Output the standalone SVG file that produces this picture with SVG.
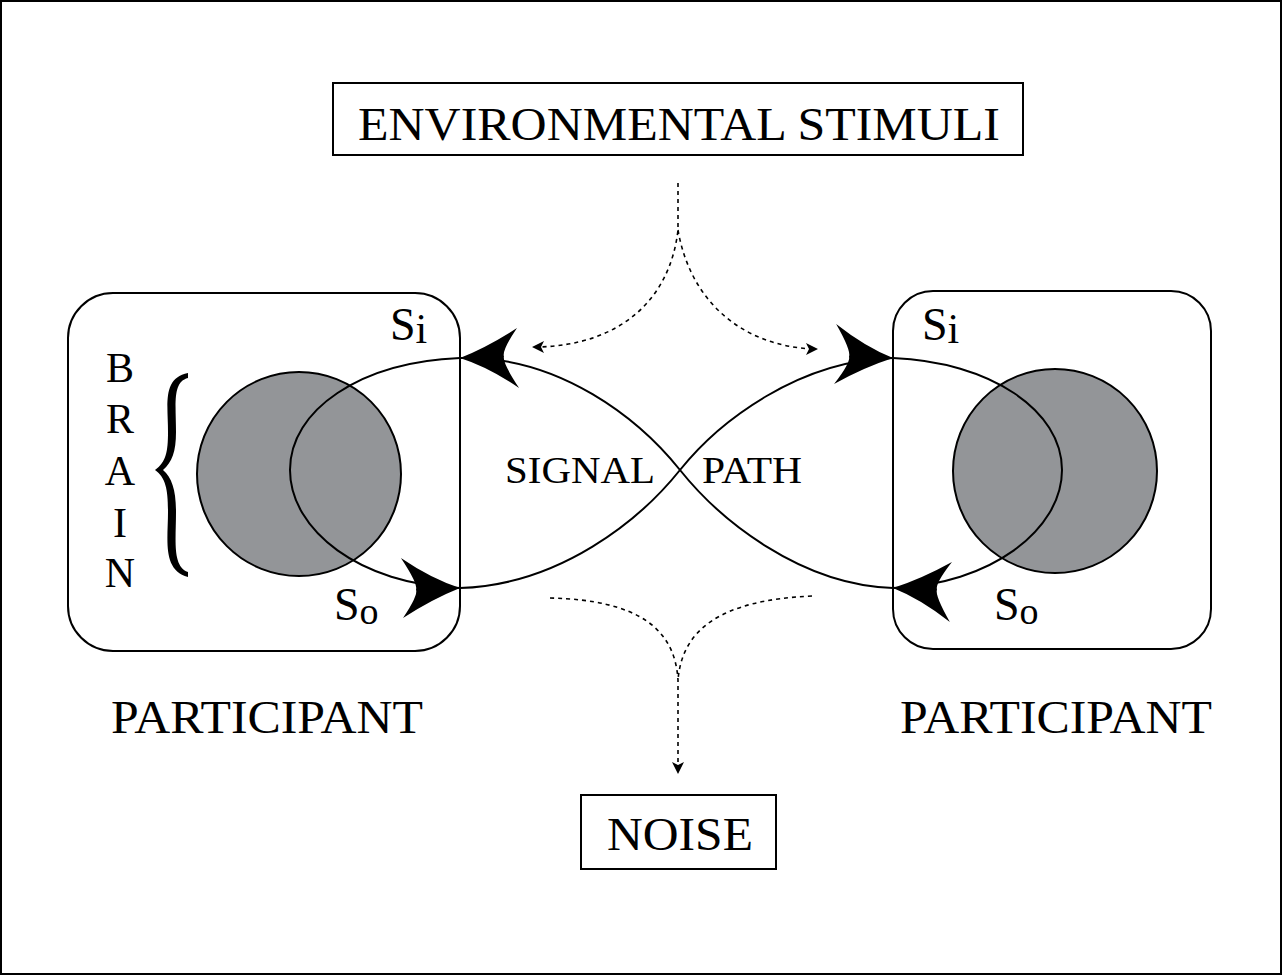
<svg xmlns="http://www.w3.org/2000/svg" width="1283" height="976" viewBox="0 0 1283 976">
<style>
text{font-family:"Liberation Serif","Times New Roman",serif;fill:#000}
.b{fill:none;stroke:#000;stroke-width:2}
.c{fill:#939598;stroke:#000;stroke-width:2}
.d{fill:none;stroke:#000;stroke-width:1.6;stroke-dasharray:4 4}
.l{fill:none;stroke:#000;stroke-width:2}
.ah{fill:#000}
</style>
<defs>
<path id="big" d="M0,0 Q28,-10 58,-28 Q42,-6 44,0 Q42,6 58,32 Q28,10 0,0Z"/>
<path id="sm" d="M0,0 L12,-6 L9,0 L12,6Z"/>
</defs>
<rect x="1" y="1" width="1280" height="973" fill="#fff" stroke="#000" stroke-width="2"/>
<g id="participant-left">
<rect class="b" x="68" y="293" width="392" height="358" rx="45"/>
<circle class="c" cx="299" cy="474" r="102"/>
<text x="120" y="382" font-size="42" text-anchor="middle">B</text>
<text x="120" y="433" font-size="42" text-anchor="middle">R</text>
<text x="120" y="485" font-size="42" text-anchor="middle">A</text>
<text x="120" y="537" font-size="42" text-anchor="middle">I</text>
<text x="120" y="587" font-size="42" text-anchor="middle">N</text>
<path fill="#000" d="M188,373 C162,378 168,405 168,432 C168,452 166,462 155,470 C166,478 168,490 168,512 C168,540 162,570 188,577 L188,572 C172,566 176,540 176,512 C176,490 172,478 163,470 C172,462 176,452 176,432 C176,405 172,382 188,378Z"/>
<text x="390" y="340" font-size="46">S<tspan font-size="42" dy="3">i</tspan></text>
<text x="334" y="620" font-size="46">S<tspan font-size="38" dy="4">o</tspan></text>
<text x="267" y="733" font-size="46" text-anchor="middle" textLength="312" lengthAdjust="spacingAndGlyphs">PARTICIPANT</text>
</g>
<g id="participant-right">
<rect class="b" x="893" y="291" width="318" height="358" rx="40"/>
<circle class="c" cx="1055" cy="471" r="102"/>
<text x="922" y="340" font-size="46">S<tspan font-size="42" dy="3">i</tspan></text>
<text x="994" y="620" font-size="46">S<tspan font-size="38" dy="4">o</tspan></text>
<text x="1056" y="733" font-size="46" text-anchor="middle" textLength="312" lengthAdjust="spacingAndGlyphs">PARTICIPANT</text>
</g>
<g id="env">
<rect class="b" x="333" y="83" width="690" height="72" stroke-width="3"/>
<text x="679" y="140" font-size="46" text-anchor="middle" textLength="642" lengthAdjust="spacingAndGlyphs">ENVIRONMENTAL STIMULI</text>
</g>
<g id="noise">
<rect class="b" x="581" y="795" width="195" height="74" stroke-width="3"/>
<text x="680" y="850" font-size="46" text-anchor="middle" textLength="146" lengthAdjust="spacingAndGlyphs">NOISE</text>
</g>
<g id="connectors">
<path class="l" d="M460,358 C360,362 290,410 290,470 C290,530 360,585 460,588"/>
<path class="l" d="M893,358 C990,362 1062,410 1062,470 C1062,530 990,585 893,588"/>
<path class="l" d="M460,358 C560,355 640,420 680,470 C720,520 800,585 893,588"/>
<path class="l" d="M460,588 C560,585 640,520 680,470 C720,420 800,360 893,358"/>
<use href="#big" class="ah" transform="translate(460,358) rotate(-2)"/>
<use href="#big" class="ah" transform="translate(460,588) rotate(178)"/>
<use href="#big" class="ah" transform="translate(893,358) rotate(182)"/>
<use href="#big" class="ah" transform="translate(893,588) rotate(2)"/>
<path class="d" d="M678,183 L678,230 C670,300 620,345 538,347"/>
<path class="d" d="M678,230 C690,300 740,345 812,349"/>
<use href="#sm" class="ah" transform="translate(532,347)"/>
<use href="#sm" class="ah" transform="translate(818,349) rotate(180)"/>
<path class="d" d="M550,598 C640,600 675,630 678,680 L678,766"/>
<path class="d" d="M812,596 C720,600 682,630 678,680"/>
<use href="#sm" class="ah" transform="translate(678,774) rotate(-90)"/>
<text x="580" y="483" font-size="38" text-anchor="middle" textLength="150" lengthAdjust="spacingAndGlyphs">SIGNAL</text>
<text x="752" y="483" font-size="38" text-anchor="middle" textLength="100" lengthAdjust="spacingAndGlyphs">PATH</text>
</g>
</svg>
